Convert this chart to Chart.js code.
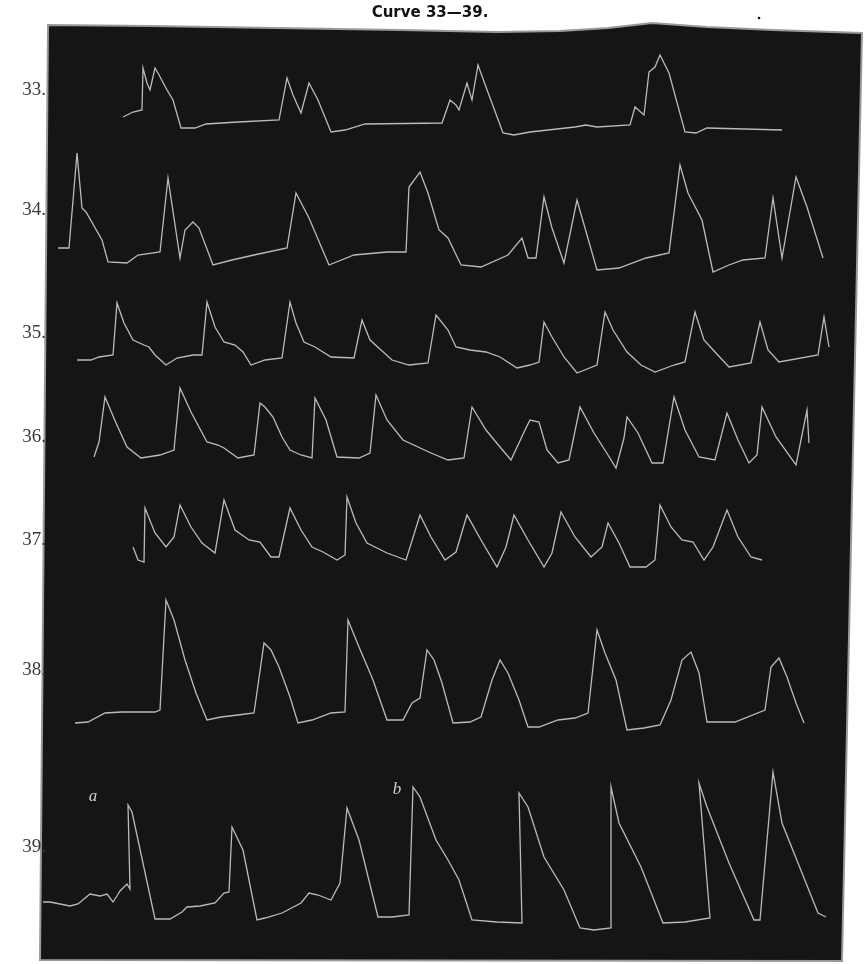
<!DOCTYPE html>
<html>
<head>
<meta charset="utf-8">
<script src="https://cdn.jsdelivr.net/npm/chart.js@4.4.1/dist/chart.umd.min.js"></script>
<style>
  html, body { margin: 0; padding: 0; background: #ffffff; }
  #wrap { width: 865px; height: 964px; position: relative; }
</style>
</head>
<body>
<div id="wrap"><canvas id="c" width="865" height="964"></canvas></div>
<script>
// ---- Data (x = horizontal position, y = vertical position on the plate) ----
const titleText = "Curve 33\u201439.";
const curveNames = ["33.", "34.", "35.", "36.", "37.", "38.", "39."];
const labelY = [90, 210, 333, 437, 540, 670, 847];

const curve33 = [[123,117],[133,112],[142,110],[143,68],[147,83],[150,90],[155,68],[158,73],[167,90],[173,100],[181,128],[195,128],[206,124],[238,122],[279,120],[287,78],[293,95],[301,113],[309,83],[318,100],[331,132],[345,130],[365,124],[442,123],[450,100],[456,105],[459,110],[467,83],[472,100],[478,65],[486,87],[503,133],[514,135],[530,132],[575,127],[586,125],[597,127],[630,125],[635,107],[644,115],[649,72],[655,67],[660,55],[669,73],[685,132],[696,133],[707,128],[782,130]];

const curve34 = [[58,248],[69,248],[77,153],[82,208],[86,212],[102,240],[108,262],[127,263],[138,255],[160,252],[168,178],[180,258],[185,230],[193,222],[199,228],[213,265],[232,260],[254,255],[287,248],[296,193],[309,218],[329,265],[354,255],[387,252],[406,252],[409,187],[420,172],[428,193],[439,230],[448,238],[461,265],[481,267],[508,255],[522,238],[528,258],[536,258],[544,197],[552,228],[564,263],[577,200],[597,270],[619,268],[646,258],[669,253],[680,165],[688,193],[702,220],[713,272],[729,265],[743,260],[765,258],[773,198],[782,258],[796,177],[807,207],[823,258]];

const curve35 = [[77,360],[91,360],[99,357],[113,355],[117,303],[124,323],[133,340],[144,345],[149,347],[155,355],[166,365],[177,358],[193,355],[202,355],[207,302],[215,327],[224,342],[235,345],[243,352],[251,365],[265,360],[282,358],[290,302],[296,323],[304,342],[315,347],[331,357],[354,358],[362,320],[370,340],[381,350],[392,360],[409,365],[428,363],[436,315],[448,330],[456,347],[470,350],[486,352],[500,357],[517,368],[530,365],[539,362],[544,322],[552,337],[564,357],[577,373],[597,365],[605,312],[613,330],[627,352],[641,365],[655,372],[674,365],[685,362],[695,312],[704,340],[715,352],[729,367],[751,363],[760,322],[768,350],[779,362],[818,355],[824,317],[829,347]];

const curve36 = [[94,457],[99,442],[105,397],[116,423],[127,447],[141,458],[160,455],[174,450],[180,388],[191,412],[207,442],[218,445],[224,448],[238,458],[254,455],[260,403],[265,407],[273,417],[282,437],[290,450],[301,455],[312,458],[315,398],[326,420],[337,457],[359,458],[370,453],[376,395],[387,420],[403,440],[431,453],[448,460],[464,458],[472,407],[486,430],[500,447],[511,460],[525,430],[530,420],[539,422],[547,450],[558,463],[569,460],[580,407],[594,433],[608,455],[616,468],[624,438],[627,417],[638,433],[652,463],[663,463],[674,397],[685,430],[699,457],[715,460],[727,413],[738,440],[749,463],[757,455],[762,407],[776,437],[796,465],[807,410],[809,443]];

const curve37 = [[133,547],[138,560],[144,562],[145,508],[155,533],[166,547],[174,537],[180,505],[191,527],[202,543],[215,553],[224,500],[235,530],[249,540],[260,542],[271,557],[279,557],[290,508],[301,530],[312,547],[323,552],[337,560],[345,555],[347,497],[356,523],[367,543],[387,553],[406,560],[420,515],[431,537],[445,560],[456,552],[467,515],[481,540],[497,567],[506,547],[514,515],[528,540],[544,567],[552,553],[561,512],[575,537],[591,557],[602,547],[608,523],[619,543],[630,567],[646,567],[655,560],[660,505],[671,527],[682,540],[693,542],[704,560],[713,547],[727,510],[738,537],[751,557],[762,560]];

const curve38 = [[75,723],[88,722],[105,713],[122,712],[155,712],[160,710],[166,600],[174,620],[185,660],[196,693],[207,720],[221,717],[238,715],[254,713],[264,643],[271,650],[279,667],[290,697],[298,723],[312,720],[331,713],[345,712],[348,620],[359,647],[373,680],[387,720],[403,720],[412,703],[420,698],[427,650],[434,660],[442,683],[453,723],[470,722],[481,717],[492,680],[500,660],[508,673],[519,700],[528,727],[539,727],[558,720],[575,718],[588,713],[597,630],[605,653],[616,680],[627,730],[644,728],[660,725],[671,700],[682,660],[691,652],[699,673],[707,722],[718,722],[735,722],[765,710],[771,667],[779,658],[787,677],[796,703],[804,723]];

const curve39 = [[43,902],[50,902],[70,906],[78,904],[90,894],[100,896],[107,894],[113,902],[117,896],[120,891],[127,884],[130,889],[128,805],[132,812],[155,919],[160,919],[170,919],[182,912],[187,907],[200,906],[215,903],[224,893],[229,892],[232,827],[243,850],[257,920],[265,918],[282,913],[301,903],[309,893],[318,895],[331,900],[340,883],[347,808],[359,840],[378,917],[392,917],[409,915],[413,787],[420,797],[436,840],[448,860],[459,880],[472,920],[497,922],[522,923],[519,793],[528,807],[544,857],[564,890],[580,928],[594,930],[611,928],[611,787],[619,823],[641,867],[663,923],[685,922],[710,918],[699,783],[707,807],[729,863],[754,920],[760,920],[773,772],[782,823],[798,863],[818,913],[826,917]];

const curves = [curve33, curve34, curve35, curve36, curve37, curve38, curve39];

// Plate outline (frame of the dark plate)
const frameOutline = [[48,25],[150,26],[276,28],[400,30],[497,32],[560,31],[608,28],[652,23],[707,27],[773,30],[862,33],[842,961],[40,960]];
const plateMarks = [{t:"a", x:93, y:797}, {t:"b", x:397, y:790}];
const printDot = [759, 18];

// ---- Plugins ----
const platePlugin = {
  id: 'plate',
  beforeDatasetsDraw(chart) {
    const {ctx, scales: {x, y}} = chart;
    ctx.save();
    ctx.fillStyle = '#ffffff';
    ctx.fillRect(0, 0, chart.width, chart.height);
    ctx.beginPath();
    frameOutline.forEach((p, i) => {
      const px = x.getPixelForValue(p[0]), py = y.getPixelForValue(p[1]);
      if (i === 0) ctx.moveTo(px, py); else ctx.lineTo(px, py);
    });
    ctx.closePath();
    ctx.fillStyle = '#151515';
    ctx.fill();
    ctx.lineWidth = 2;
    ctx.strokeStyle = '#9a9a9a';
    ctx.stroke();
    ctx.restore();
  },
  afterDraw(chart) {
    const {ctx, scales: {x, y}} = chart;
    ctx.save();
    // Title
    ctx.fillStyle = '#111111';
    ctx.font = 'bold 15px "DejaVu Sans"';
    ctx.textAlign = 'center';
    ctx.textBaseline = 'middle';
    ctx.fillText(titleText, x.getPixelForValue(430), y.getPixelForValue(13));
    // Dot
    ctx.beginPath();
    ctx.arc(x.getPixelForValue(printDot[0]), y.getPixelForValue(printDot[1]), 1.3, 0, Math.PI * 2);
    ctx.fill();
    // Curve numbers
    ctx.fillStyle = '#3a3a3a';
    ctx.font = '19px "Liberation Serif"';
    ctx.textAlign = 'right';
    curveNames.forEach((n, i) => {
      ctx.fillText(n, x.getPixelForValue(46), y.getPixelForValue(labelY[i]));
    });
    // Plate letters
    ctx.fillStyle = '#cfcfcf';
    ctx.font = 'italic 17px "Liberation Serif"';
    ctx.textAlign = 'center';
    plateMarks.forEach(m => ctx.fillText(m.t, x.getPixelForValue(m.x), y.getPixelForValue(m.y)));
    ctx.restore();
  }
};

const datasets = curves.map((c, i) => ({
  label: curveNames[i],
  data: c.map(p => ({x: p[0], y: p[1]})),
  showLine: true,
  borderColor: 'rgba(205,205,205,0.9)',
  borderWidth: 1.3,
  pointRadius: 0,
  tension: 0,
  fill: false
}));

new Chart(document.getElementById('c'), {
  type: 'scatter',
  data: { datasets },
  options: {
    responsive: false,
    animation: false,
    devicePixelRatio: 1,
    layout: { padding: 0 },
    plugins: { legend: { display: false }, tooltip: { enabled: false }, title: { display: false } },
    scales: {
      x: { type: 'linear', min: 0, max: 865, display: false },
      y: { type: 'linear', min: 0, max: 964, reverse: true, display: false }
    }
  },
  plugins: [platePlugin]
});
</script>
</body>
</html>
